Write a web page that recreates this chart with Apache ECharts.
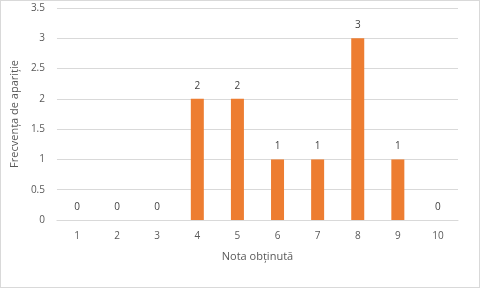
<!DOCTYPE html>
<html><head><meta charset="utf-8">
<script src="https://cdn.jsdelivr.net/npm/echarts@6/dist/echarts.min.js"></script>
<style>html,body{margin:0;padding:0;background:#fff}#c{width:480px;height:288px;box-sizing:border-box;border:1px solid #d9d9d9}</style>
</head><body><div id="c"></div>
<script>
const categories = ['1','2','3','4','5','6','7','8','9','10'];
const values = [0,0,0,2,2,1,1,3,1,0];
const xTitle = 'Nota obținută';
const yTitle = 'Frecvența de apariție';
const font = 'Open Sans';
const chart = echarts.init(document.getElementById('c'));
chart.setOption({
  animation:false,
  grid:{left:45,right:21,top:7,bottom:67},
  xAxis:{type:'category',data:categories,name:xTitle,nameLocation:'middle',nameGap:31,
    nameTextStyle:{color:'#595959',fontSize:11,fontFamily:font},
    axisLine:{lineStyle:{color:'#d9d9d9'}},axisTick:{show:false},
    axisLabel:{color:'#595959',fontSize:10,fontFamily:font,margin:11}},
  yAxis:{type:'value',min:0,max:3.5,interval:0.5,name:yTitle,nameLocation:'middle',nameGap:35,
    nameTextStyle:{color:'#595959',fontSize:11,fontFamily:font},
    axisLine:{show:false},axisTick:{show:false},
    splitLine:{lineStyle:{color:'#d9d9d9'}},
    axisLabel:{color:'#595959',fontSize:10,fontFamily:font,margin:12}},
  series:[{type:'bar',data:values,barWidth:13,itemStyle:{color:'#ED7D31'},
    label:{show:true,position:'top',distance:8,color:'#404040',fontSize:10,fontFamily:font}}]
});
</script></body></html>
